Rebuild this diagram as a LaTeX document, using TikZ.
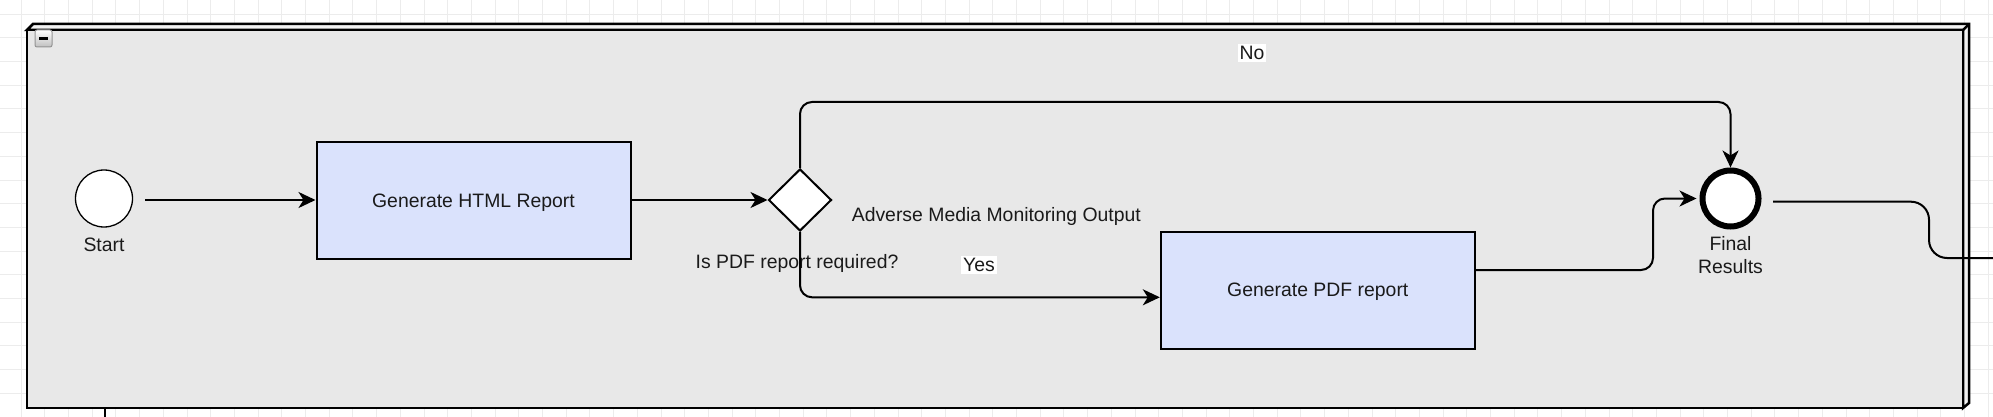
\documentclass[tikz,border=0pt]{standalone}
\usepackage{fontspec}
\setmainfont{Liberation Sans}
\usetikzlibrary{arrows.meta,shapes.geometric}
\definecolor{poolfill}{HTML}{E8E8E8}
\definecolor{poolside}{HTML}{F2F2F2}
\definecolor{taskfill}{HTML}{DAE2FC}
\definecolor{gridc}{HTML}{ECECEC}
\definecolor{textc}{HTML}{1A1A1A}
\tikzset{
  conn/.style={line width=2pt, rounded corners=12pt, -{Stealth[length=17pt,width=16pt,inset=5pt]}},
  plainconn/.style={line width=2pt, rounded corners=18pt},
  task/.style={rectangle, draw, line width=2pt, fill=taskfill, minimum width=314pt, minimum height=117pt, inner sep=0pt, text=textc},
  lbl/.style={inner sep=0pt, text=textc},
  wlbl/.style={inner sep=2pt, fill=white, text=textc},
}
\begin{document}
\begin{tikzpicture}[x=1pt,y=-1pt,font=\fontsize{19.4}{22}\selectfont]
\useasboundingbox (0,0) rectangle (1993,417);
\clip (0,0) rectangle (1993,417);
\fill[white] (0,0) rectangle (1993,417);
\foreach \i in {0,...,84} {\draw[gridc, line width=0.8pt] ({21+23.7*\i},0) -- ({21+23.7*\i},417);}
\foreach \j in {0,...,18} {\draw[gridc, line width=0.8pt] (0,{14+23.7*\j}) -- (1993,{14+23.7*\j});}
% pool / subprocess box
\filldraw[fill=poolside, line width=2.5pt, line join=miter] (27,30) -- (33,24) -- (1969,24) -- (1969,403) -- (1963,408) -- (1963,30) -- cycle;
\node[rectangle, draw, line width=2.5pt, fill=poolfill, minimum width=1936pt, minimum height=378pt, inner sep=0pt, outer sep=0pt] (pool) at (995,219) {};
\draw[line width=2.5pt] (pool.north east) -- (1969,24);
% collapse icon
\node[rectangle, draw=gray!85, line width=1pt, rounded corners=2pt, top color=white, bottom color=gray!50, minimum size=17pt, inner sep=0pt] (collapse) at (43.5,38.5) {};
\draw[line width=2.2pt] ([xshift=-4.5pt]collapse.center) -- ([xshift=4.5pt]collapse.center);
% nodes
\node[circle, draw, fill=white, line width=1.3pt, minimum size=57pt, inner sep=0pt] (start) at (104,198.5) {};
\node[lbl, anchor=base] (startlbl) at (104,251.7) {Start};
\node[task] (html) at (473.5,200) {};
\node[lbl, anchor=base] (htmltxt) at (473.5,207.5) {Generate HTML Report};
\node[diamond, draw, fill=white, line width=2pt, minimum width=63pt, minimum height=62pt, inner sep=0pt] (gw) at (800,200) {};
\node[lbl, anchor=base] (gwlbl) at (797,268.3) {Is PDF report required?};
\node[lbl, anchor=base west] (amm) at (851.6,221.7) {Adverse Media Monitoring Output};
\node[task] (pdf) at (1317.8,290.3) {};
\node[lbl, anchor=base] (pdftxt) at (1317.8,296.7) {Generate PDF report};
\node[circle, draw, fill=white, line width=6pt, minimum size=56pt, inner sep=0pt] (final) at (1730.5,198.5) {};
\node[lbl, anchor=base, align=center] (finallbl) at (1730.5,273.3) {Final\\[1pt]Results};
% connectors
\coordinate (startout) at (145,200);
\draw[conn, rounded corners=0pt] (startout) -- (html.west);
\draw[conn, rounded corners=0pt] (html.east) -- (gw.west);
\coordinate (nobend) at (800,102);
\draw[conn] (gw.north) -- (nobend) -| (final.north);
\node[wlbl, anchor=base] (nolbl) at (1252,59.5) {No};
\coordinate (yesbend) at (800,297.3);
\draw[conn] (gw.south) |- (pdf.west |- yesbend);
\node[wlbl, anchor=base] (yeslbl) at (979,271.7) {Yes};
\coordinate (pdfout) at (1475,270);
\coordinate (pdfmid) at (1653,270);
\draw[conn] (pdfout) -- (pdfmid) |- ([xshift=-3pt]final.west);
\coordinate (outstart) at (1773,201.7);
\coordinate (outbend) at (1929,201.7);
\coordinate (outend) at (1993,258);
\draw[plainconn] (outstart) -- (outbend) |- (outend);
\coordinate (bottomstart) at (105,409);
\coordinate (bottomend) at (105,417);
\draw[line width=2pt] (bottomstart) -- (bottomend);
\end{tikzpicture}
\end{document}
